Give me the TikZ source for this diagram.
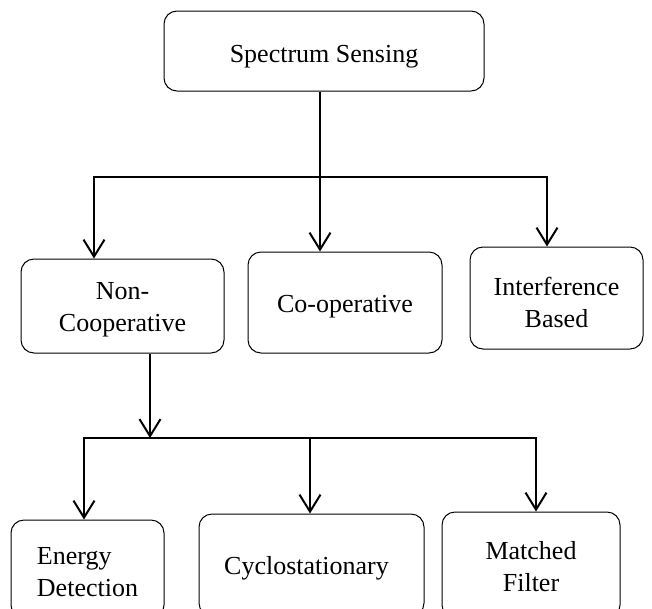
\documentclass[tikz,border=0pt]{standalone}
\usepackage{fontspec}
\setmainfont{Liberation Serif}
\usetikzlibrary{arrows.meta}
\tikzset{
    blk/.style={draw, line width=1pt, rounded corners=13pt, inner sep=0pt},
    txt/.style={align=center, inner sep=0pt, yshift=-4pt,
        font=\fontsize{26}{32}\selectfont},
    link/.style={line width=2pt},
    arr/.style={link, -{Straight Barb[length=17pt,width=21pt]}}
}
\begin{document}
\begin{tikzpicture}[x=1pt,y=-1pt]
    \useasboundingbox (0,0) rectangle (652,608);
    \clip (0,0) rectangle (652,608);

    % Top level
    \node[blk, minimum width=320pt, minimum height=80pt,
        label={[txt, yshift=-2pt]center:Spectrum Sensing}] (sensing) at (324,51) {};

    % Second level
    \node[blk, minimum width=203pt, minimum height=94pt,
        label={[txt]center:{Non-\\Cooperative}}] (noncoop) at (122.5,306) {};
    \node[blk, minimum width=194pt, minimum height=101pt,
        label={[txt]center:Co-operative}] (coop) at (345,302.5) {};
    \node[blk, minimum width=173pt, minimum height=102pt,
        label={[txt]center:{Interference\\Based}}] (interf) at (556.5,298) {};

    % Third level (cut by the page bottom)
    \node[blk, minimum width=153pt, minimum height=98pt,
        label={[txt, align=left, yshift=1pt]center:{Energy\\Detection}}] (energy) at (87.5,569) {};
    \node[blk, minimum width=225pt, minimum height=102pt,
        label={[txt, xshift=-5pt, yshift=1pt]center:Cyclostationary}] (cyclo) at (311.5,565) {};
    \node[blk, minimum width=178pt, minimum height=106pt,
        label={[txt, yshift=2pt]center:{Matched\\Filter}}] (matched) at (531,565) {};

    % Connectors from Spectrum Sensing
    \coordinate (split) at (320,177);
    \coordinate (busL) at (94,177);
    \coordinate (busR) at (547,177);
    \draw[link] (split |- sensing.south) -- (split);
    \draw[arr] (split) -- (busL) -- (busL |- noncoop.north);
    \draw[arr] (split) -- (busR) -- (busR |- interf.north);
    \draw[arr] (split) -- (split |- coop.north);

    % Connectors from Non-Cooperative
    \coordinate (split2) at (150,438);
    \coordinate (bus2L) at (84,438);
    \coordinate (bus2M) at (310,438);
    \coordinate (bus2R) at (536,438);
    \draw[arr] (split2 |- noncoop.south) -- (split2);
    \draw[arr] (split2) -- (bus2L) -- (bus2L |- energy.north);
    \draw[arr] (split2) -- (bus2R) -- (bus2R |- matched.north);
    \draw[arr] (bus2M) -- (bus2M |- cyclo.north);
\end{tikzpicture}
\end{document}
